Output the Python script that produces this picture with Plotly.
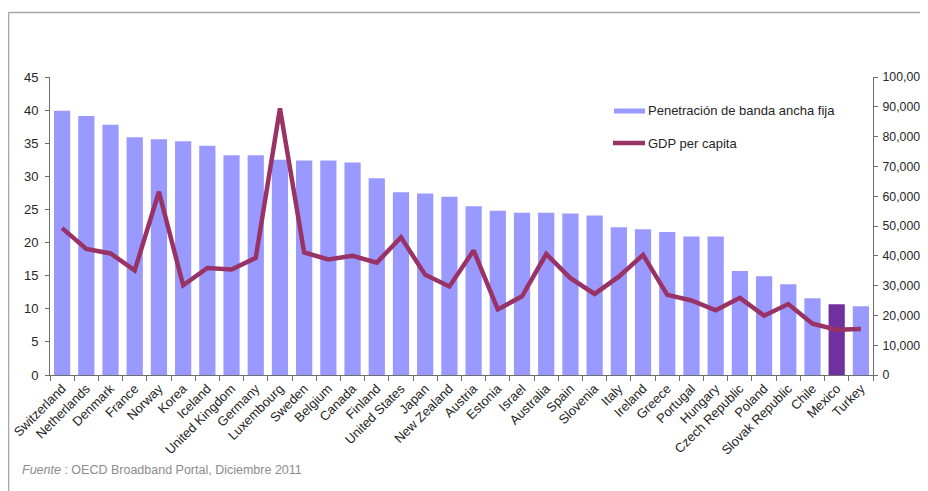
import plotly.graph_objects as go

countries = ["Switzerland", "Netherlands", "Denmark", "France", "Norway", "Korea", "Iceland",
             "United Kingdom", "Germany", "Luxembourg", "Sweden", "Belgium", "Canada", "Finland",
             "United States", "Japan", "New Zealand", "Austria", "Estonia", "Israel", "Australia",
             "Spain", "Slovenia", "Italy", "Ireland", "Greece", "Portugal", "Hungary",
             "Czech Republic", "Poland", "Slovak Republic", "Chile", "Mexico", "Turkey"]

penetracion = [39.9, 39.1, 37.8, 35.9, 35.6, 35.3, 34.6, 33.2, 33.2, 32.5, 32.4, 32.4, 32.1, 29.7,
               27.6, 27.4, 26.9, 25.5, 24.8, 24.5, 24.5, 24.4, 24.1, 22.3, 22.0, 21.6, 20.9, 20.9,
               15.7, 14.9, 13.7, 11.6, 10.7, 10.4]

gdp = [49300, 42300, 40800, 35100, 61500, 30100, 35900, 35400, 39300, 89500, 41100, 38800,
       40000, 37700, 46200, 33600, 29700, 41800, 22000, 26400, 40600, 32500, 27200, 33000,
       40300, 26900, 25000, 21700, 25900, 19900, 23800, 17200, 15200, 15400]

highlight = "Mexico"
bar_color = "#9999FF"
hl_color = "#7030A0"
line_color = "#993366"

colors = [hl_color if c == highlight else bar_color for c in countries]

fig = go.Figure()
fig.add_trace(go.Bar(x=countries, y=penetracion, marker_color=colors, marker_line_width=0,
                     name="Penetración de banda ancha fija", yaxis="y"))
fig.add_trace(go.Scatter(x=countries, y=gdp, mode="lines", line=dict(color=line_color, width=4.5),
                         name="GDP per capita", yaxis="y2"))

font = dict(family="Liberation Sans, Arial, sans-serif", size=13, color="#262626")
font_r = dict(family="Liberation Sans, Arial, sans-serif", size=12.3, color="#262626")
axis_line = "#6e6e6e"

# page has an 8px body margin; figure is sized so plot area lands at window x 50-873, y 77-375
fig.update_layout(
    width=920, height=483,
    margin=dict(l=42, r=55, t=69, b=116, autoexpand=False),
    paper_bgcolor="white", plot_bgcolor="white",
    showlegend=False,
    bargap=0.33,
    font=font,
    xaxis=dict(showline=True, linecolor=axis_line, linewidth=1, ticks="outside", ticklen=5,
               tickcolor=axis_line, tickson="boundaries", tickangle=-45, showgrid=False,
               tickfont=font, automargin=False),
    yaxis=dict(range=[0, 45], dtick=5, showline=True, linecolor=axis_line, linewidth=1,
               ticks="outside", ticklen=4, tickcolor=axis_line, showgrid=False, zeroline=False,
               tickfont=font, automargin=False, ticklabelstandoff=4),
    yaxis2=dict(range=[0, 100000], dtick=10000, tickformat=",", overlaying="y", side="right",
                showline=True, linecolor=axis_line, linewidth=1, ticks="outside", ticklen=4,
                tickcolor=axis_line, showgrid=False, zeroline=False, tickfont=font_r,
                automargin=False, ticklabelstandoff=2),
)

# helpers: window pixel -> paper coords
def px_x(px):
    return (px - 50) / 823.0

def px_y(py):
    return (375 - py) / 298.0

# frame around chart (left and top edges)
fig.add_shape(type="line", xref="paper", yref="paper", x0=px_x(8.5), x1=px_x(930), y0=px_y(12.5), y1=px_y(12.5),
              line=dict(color="#a6a6a6", width=1.5))
fig.add_shape(type="line", xref="paper", yref="paper", x0=px_x(8.5), x1=px_x(8.5), y0=px_y(12.5), y1=px_y(495),
              line=dict(color="#a6a6a6", width=1.5))

# custom legend
fig.add_shape(type="rect", xref="paper", yref="paper", x0=px_x(614), x1=px_x(645), y0=px_y(108.5), y1=px_y(113.5),
              fillcolor=bar_color, line_width=0)
fig.add_shape(type="line", xref="paper", yref="paper", x0=px_x(613), x1=px_x(645), y0=px_y(143), y1=px_y(143),
              line=dict(color=line_color, width=4.5))
fig.add_annotation(xref="paper", yref="paper", x=px_x(646), y=px_y(111), xanchor="left", yanchor="middle",
                   text="Penetración de banda ancha fija", showarrow=False, font=font)
fig.add_annotation(xref="paper", yref="paper", x=px_x(646), y=px_y(143), xanchor="left", yanchor="middle",
                   text="GDP per capita", showarrow=False, font=font)

# source note
fig.add_annotation(xref="paper", yref="paper", x=px_x(20), y=px_y(470), xanchor="left", yanchor="middle",
                   text="<i>Fuente</i> : OECD Broadband Portal, Diciembre 2011", showarrow=False,
                   font=dict(family="Liberation Sans, Arial, sans-serif", size=12.5, color="#8c8c8c"))

fig.write_html("out.html")
